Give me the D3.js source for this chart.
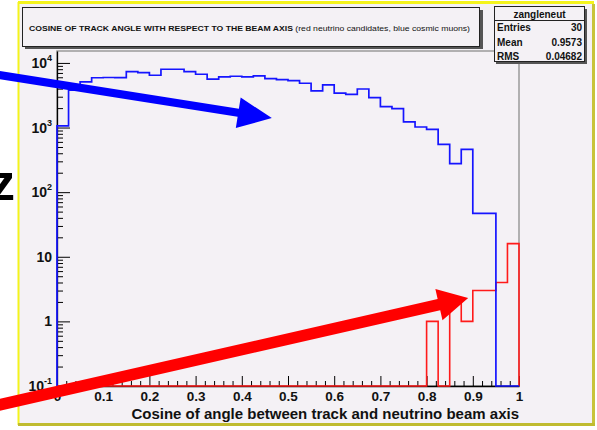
<!DOCTYPE html>
<html>
<head>
<meta charset="utf-8">
<script src="https://cdn.jsdelivr.net/npm/d3@7"></script>
<style>
  html, body { margin: 0; padding: 0; background: #ffffff; }
  svg { display: block; font-family: "Liberation Sans", Arial, Helvetica, sans-serif; }
</style>
</head>
<body>
<svg id="chart" width="597" height="430"></svg>
<script>
// ---- data (40 bins of 0.025) ----
const binWidth = 0.025;
const blueCounts = [
  1060, 3780, 5080, 5900, 5950, 5930, 7330, 7080, 6450, 7980,
  7980, 7330, 6680, 5600, 6070, 6220, 6070, 6300, 5710, 5510,
  5320, 4850, 3690, 4560, 3400, 3270, 3950, 2900, 2110, 1960,
  1220, 1020, 940, 550, 276, 461, 47, 47, 0, 0
];
const redCounts = [
  0, 0, 0, 0, 0, 0, 0, 0, 0, 0,
  0, 0, 0, 0, 0, 0, 0, 0, 0, 0,
  0, 0, 0, 0, 0, 0, 0, 0, 0, 0,
  0, 0, 1, 0, 2, 1, 3, 3, 4, 16
];
const xTickValues = [0, 0.1, 0.2, 0.3, 0.4, 0.5, 0.6, 0.7, 0.8, 0.9, 1];
const xTickLabels = ["0", "0.1", "0.2", "0.3", "0.4", "0.5", "0.6", "0.7", "0.8", "0.9", "1"];
const yDecades = [0.1, 1, 10, 100, 1000, 10000];
const yBaseLabels = ["10", "1", "10", "10", "10", "10"];
const yExpLabels = ["-1", "", "", "2", "3", "4"];
const titleCaps = "COSINE OF TRACK ANGLE WITH RESPECT TO THE BEAM AXIS";
const titleRest = " (red neutrino candidates, blue cosmic muons)";
const xTitle = "Cosine of angle between track and neutrino beam axis";
const statsName = "zangleneut";
const statsLabels = ["Entries", "Mean", "RMS"];
const statsValues = ["30", "0.9573", "0.04682"];
// annotation arrows, in data coordinates (tails run off the frame)
const blueArrow = { from: [-0.13, 6600], to: [0.465, 1400] };
const redArrow = { from: [-0.13, 0.05], to: [0.89, 2.3] };

// ---- layout ----
const width = 597, height = 430;
const margin = { top: 51, right: 78, bottom: 44, left: 57 };
const plotW = width - margin.left - margin.right;
const plotH = height - margin.top - margin.bottom;
const yMin = 0.1, yMax = 15300;
const bg = "#f4f1f5";

const svg = d3.select("#chart");

const x = d3.scaleLinear().domain([0, 1]).range([margin.left, margin.left + plotW]);
const y = d3.scaleLog().domain([yMin, yMax]).range([margin.top + plotH, margin.top]);
const yc = (v) => (v > 0 ? y(v) : y(yMin));

// canvas with bevelled yellow frame
svg.append("rect").attr("x", 19).attr("y", 3).attr("width", 574).attr("height", 421).attr("fill", bg);
svg.append("line").attr("x1", 18).attr("y1", 2.5).attr("x2", 594).attr("y2", 2.5)
  .attr("stroke", "#f4f41c").attr("stroke-width", 3);
svg.append("line").attr("x1", 18.5).attr("y1", 2).attr("x2", 18.5).attr("y2", 425)
  .attr("stroke", "#f4f41c").attr("stroke-width", 2);
svg.append("line").attr("x1", 593.5).attr("y1", 4).attr("x2", 593.5).attr("y2", 425)
  .attr("stroke", "#c8c43a").attr("stroke-width", 3);
svg.append("line").attr("x1", 18).attr("y1", 424.5).attr("x2", 595).attr("y2", 424.5)
  .attr("stroke", "#c0bc30").attr("stroke-width", 3);

// plot frame
svg.append("rect")
  .attr("x", margin.left).attr("y", margin.top).attr("width", plotW).attr("height", plotH)
  .attr("fill", bg).attr("stroke", "#9a9a9a").attr("stroke-width", 1.5);

// title box with shadow
svg.append("rect").attr("x", 25).attr("y", 10).attr("width", 458).attr("height", 39).attr("fill", "#555");
svg.append("rect").attr("x", 22.5).attr("y", 7.5).attr("width", 457).attr("height", 39)
  .attr("fill", bg).attr("stroke", "#222").attr("stroke-width", 1);
const title = svg.append("text")
  .attr("x", 29).attr("y", 30.5)
  .attr("font-size", 7.6).attr("fill", "#111")
  .attr("textLength", 441).attr("lengthAdjust", "spacingAndGlyphs");
title.append("tspan").attr("font-weight", "bold").text(titleCaps);
title.append("tspan").text(titleRest);

// stats box with shadow
svg.append("rect").attr("x", 496).attr("y", 9).attr("width", 91).attr("height", 55).attr("fill", "#555");
svg.append("rect").attr("x", 494.5).attr("y", 6.5).attr("width", 90).attr("height", 55)
  .attr("fill", bg).attr("stroke", "#222").attr("stroke-width", 1);
svg.append("line").attr("x1", 494.5).attr("x2", 584.5).attr("y1", 20.5).attr("y2", 20.5)
  .attr("stroke", "#222");
svg.append("text").attr("x", 539.5).attr("y", 17.5).attr("text-anchor", "middle")
  .attr("font-size", 10).attr("font-weight", "bold").attr("fill", "#111").text(statsName);
statsLabels.forEach((lab, i) => {
  svg.append("text").attr("x", 497).attr("y", 31 + i * 14.5)
    .attr("font-size", 10).attr("font-weight", "bold").attr("fill", "#111").text(lab);
  svg.append("text").attr("x", 582).attr("y", 31 + i * 14.5).attr("text-anchor", "end")
    .attr("font-size", 10).attr("font-weight", "bold").attr("fill", "#111").text(statsValues[i]);
});

// ---- axes ----
const minorX = d3.range(0, 51).map((i) => i / 50).filter((v, i) => i % 5 !== 0);
svg.append("g").attr("transform", `translate(0,${margin.top + plotH})`)
  .call(d3.axisBottom(x).tickValues(minorX).tickSizeInner(-5).tickSizeOuter(0).tickFormat(""))
  .call((g) => g.select(".domain").remove());
const xAxis = svg.append("g").attr("transform", `translate(0,${margin.top + plotH})`)
  .call(d3.axisBottom(x).tickValues(xTickValues).tickSizeInner(-10).tickSizeOuter(0)
    .tickPadding(5).tickFormat((d, i) => xTickLabels[i]));
xAxis.select(".domain").attr("stroke", "#000").attr("stroke-width", 1.3);
xAxis.selectAll("text").attr("font-size", 13.5).attr("font-weight", "bold")
  .attr("font-family", "Liberation Sans, Arial, sans-serif").attr("fill", "#111");

const minorY = [];
yDecades.forEach((d) => { for (let k = 2; k <= 9; k++) if (d * k < yMax) minorY.push(d * k); });
svg.append("g").attr("transform", `translate(${margin.left},0)`)
  .call(d3.axisLeft(y).tickValues(minorY).tickSizeInner(-6).tickSizeOuter(0).tickFormat(""))
  .call((g) => g.select(".domain").remove());
const yAxis = svg.append("g").attr("transform", `translate(${margin.left},0)`)
  .call(d3.axisLeft(y).tickValues(yDecades).tickSizeInner(-13).tickSizeOuter(0).tickFormat(""));
yAxis.select(".domain").attr("stroke", "#000").attr("stroke-width", 1.3);

yDecades.forEach((d, i) => {
  const t = svg.append("text")
    .attr("x", margin.left - 5).attr("y", y(d)).attr("dy", "0.36em")
    .attr("text-anchor", "end").attr("font-size", 14).attr("font-weight", "bold").attr("fill", "#111");
  t.append("tspan").text(yBaseLabels[i]);
  if (yExpLabels[i]) {
    t.append("tspan").attr("font-size", 9).attr("dy", "-0.75em").text(yExpLabels[i]);
  }
});

svg.append("text")
  .attr("x", margin.left + plotW).attr("y", 419).attr("text-anchor", "end")
  .attr("font-size", 15).attr("font-weight", "bold").attr("fill", "#111").text(xTitle);

// ---- histograms ----
function stepPoints(counts) {
  const pts = [[x(0), y(yMin)]];
  counts.forEach((c, i) => {
    pts.push([x(i * binWidth), yc(c)]);
    pts.push([x((i + 1) * binWidth), yc(c)]);
  });
  pts.push([x(counts.length * binWidth), y(yMin)]);
  return pts;
}
const line = d3.line();
svg.append("path").attr("d", line(stepPoints(redCounts)))
  .attr("fill", "none").attr("stroke", "#ff1a1a").attr("stroke-width", 1.6);
svg.append("path").attr("d", line(stepPoints(blueCounts)))
  .attr("fill", "none").attr("stroke", "#1515ff").attr("stroke-width", 1.7);

// ---- overlaid slide graphics ----
svg.append("text").attr("x", -10).attr("y", 200)
  .attr("font-size", 50).attr("font-weight", "bold").attr("fill", "#000").text("z");

function arrow(a, color, shaft, headLen, headHalf) {
  const x0 = x(a.from[0]), y0 = y(a.from[1]);
  const x1 = x(a.to[0]), y1 = y(a.to[1]);
  const len = Math.hypot(x1 - x0, y1 - y0);
  const ux = (x1 - x0) / len, uy = (y1 - y0) / len;
  const px = -uy, py = ux;
  const bx = x1 - ux * headLen, by = y1 - uy * headLen;
  const pts = [
    [x0 + px * shaft / 2, y0 + py * shaft / 2],
    [bx + px * shaft / 2, by + py * shaft / 2],
    [bx + px * headHalf, by + py * headHalf],
    [x1, y1],
    [bx - px * headHalf, by - py * headHalf],
    [bx - px * shaft / 2, by - py * shaft / 2],
    [x0 - px * shaft / 2, y0 - py * shaft / 2]
  ];
  svg.append("path").attr("d", d3.line()(pts) + "Z").attr("fill", color);
}
arrow(blueArrow, "#0000ff", 8, 34, 15.5);
arrow(redArrow, "#ff0000", 11.5, 30, 16);
</script>
</body>
</html>
